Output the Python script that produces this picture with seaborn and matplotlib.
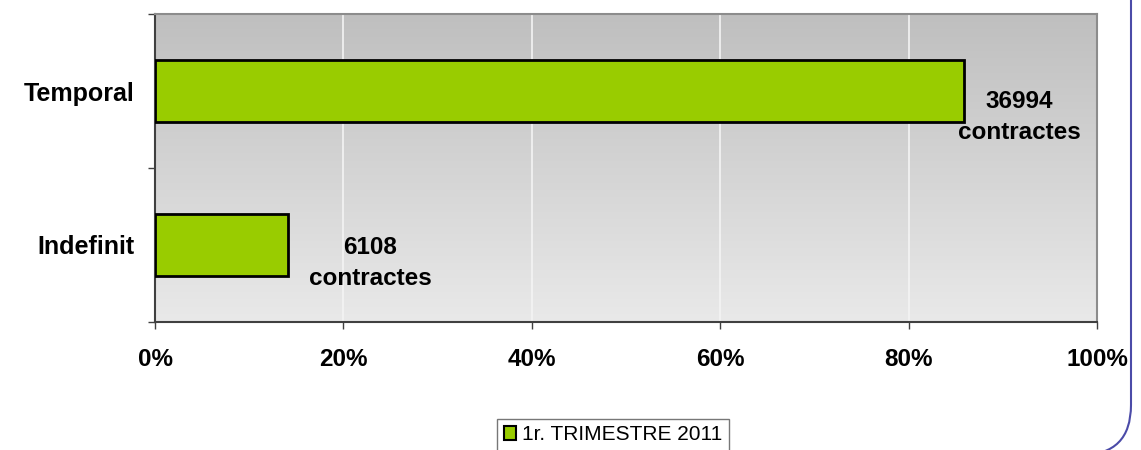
import numpy as np
import pandas as pd
import matplotlib
matplotlib.use('Agg')
from matplotlib import pyplot as plt
from matplotlib.patches import FancyBboxPatch
import seaborn as sb

categories = ['Temporal', 'Indefinit']
counts = [36994, 6108]
series_name = '1r. TRIMESTRE 2011'
x_ticks = [0, 20, 40, 60, 80, 100]
x_tick_labels = ['0%', '20%', '40%', '60%', '80%', '100%']

total = sum(counts)
pct = [c / total * 100 for c in counts]
df = pd.DataFrame({'cat': categories, 'pct': pct, 'serie': series_name})

sb.set_style('white')
plt.rcParams['font.family'] = ['Liberation Sans', 'DejaVu Sans']
plt.rcParams['text.color'] = 'black'
plt.rcParams['xtick.color'] = 'black'
plt.rcParams['ytick.color'] = 'black'

fig = plt.figure(figsize=(11.41, 4.5), dpi=100)
ax = fig.add_axes([155 / 1141, 1 - 322 / 450, 942 / 1141, 308 / 450])

# gray gradient background
grad = np.linspace(0, 1, 256).reshape(-1, 1)
ax.imshow(grad, extent=[0, 100, 1.5, -0.5], aspect='auto',
          cmap=matplotlib.colors.LinearSegmentedColormap.from_list('g', ['#bfbfbf', '#e9e9e9']),
          zorder=0)
for xt in x_ticks[1:-1]:
    ax.axvline(xt, color='#f4f4f4', lw=1.2, zorder=1)

sb.barplot(data=df, x='pct', y='cat', hue='serie', orient='h', ax=ax,
           palette=['#99cc00'], saturation=1, edgecolor='black', linewidth=2,
           width=0.40, legend=False, zorder=3)

# label offsets in pixels (dx, dy)
offsets = [(56, -26), (82, -18)]
for i, (c, p) in enumerate(zip(counts, pct)):
    ax.annotate(f'{c}\ncontractes', xy=(p, i), xytext=offsets[i],
                textcoords='offset pixels', ha='center', va='center',
                fontsize=17.5, fontweight='bold', linespacing=1.45, color='black', zorder=4)

ax.set_xlim(0, 100)
ax.set_ylim(1.5, -0.5)
ax.set_xticks(x_ticks)
ax.set_xticklabels(x_tick_labels, fontsize=17.5, fontweight='bold')
ax.set_yticks(range(len(categories)))
ax.set_yticklabels(categories, fontsize=18, fontweight='bold')
ax.set_yticks([-0.5, 0.5, 1.5], minor=True)
ax.tick_params(axis='y', which='major', length=0, pad=15)
ax.tick_params(axis='y', which='minor', length=5, width=1, color='#404040', direction='out', left=True)
ax.tick_params(axis='x', length=5, width=1, color='#404040', direction='out', bottom=True, pad=14)
ax.set_xlabel('')
ax.set_ylabel('')
for s in ['left', 'bottom']:
    ax.spines[s].set_color('#404040')
    ax.spines[s].set_linewidth(1.5)
for s in ['top', 'right']:
    ax.spines[s].set_color('#8c8c8c')
    ax.spines[s].set_linewidth(1.5)

# legend box
handle = matplotlib.patches.Patch(facecolor='#99cc00', edgecolor='black', lw=1.5)
fig.legend([handle], [series_name], loc='upper center', bbox_to_anchor=(613 / 1141, 1 - 419 / 450),
           frameon=True, fancybox=False, edgecolor='#555555', fontsize=15,
           handlelength=0.6, handleheight=0.6, handletextpad=0.3, borderpad=0.3,
           borderaxespad=0, labelcolor='black')

# rounded outer border
border = FancyBboxPatch((-50, -5), 1181, 600, boxstyle='round,pad=0,rounding_size=50',
                        transform=None, fill=False, edgecolor='#4b4ba8', lw=1.5, zorder=10)
fig.patches.append(border)

plt.savefig('out.png', dpi=100)
plt.close()
